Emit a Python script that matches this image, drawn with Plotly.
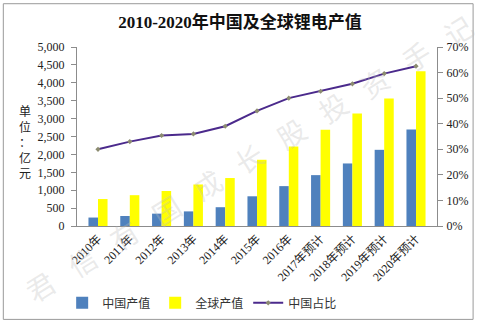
import plotly.graph_objects as go

# Category labels and series values (亿元 / share)
categories = ["2010年", "2011年", "2012年", "2013年", "2014年", "2015年", "2016年",
              "2017年预计", "2018年预计", "2019年预计", "2020年预计"]
china_value = [236, 280, 345, 408, 525, 830, 1114, 1421, 1747, 2128, 2698]
global_value = [753, 861, 978, 1160, 1340, 1850, 2220, 2690, 3143, 3560, 4320]
china_share = [0.300, 0.330, 0.354, 0.360, 0.390, 0.450, 0.500, 0.527, 0.556, 0.596, 0.625]
left_ticks = list(range(0, 5001, 500))
right_ticks = [i / 10 for i in range(0, 8)]
watermark_chars = ["君", "信", "有", "国", "成", "长", "股", "投", "资", "手", "记"]

W, H = 480, 329
L, R, T, B = 77, 39, 47, 98
PW, PH = W - L - R, H - T - B


def px(x):
    return (x - L) / PW


def py(y):
    return (H - B - y) / PH


serif = "Liberation Serif, Times New Roman, Noto Sans CJK SC, serif"
cjk = "Noto Sans CJK SC, sans-serif"

fig = go.Figure()
fig.add_trace(go.Bar(x=categories, y=china_value, name="中国产值",
                     marker=dict(color="#4F81BD", line=dict(width=0))))
fig.add_trace(go.Bar(x=categories, y=global_value, name="全球产值",
                     marker=dict(color="#FFFF00", line=dict(width=0))))
fig.add_trace(go.Scatter(x=categories, y=china_share, name="中国占比", yaxis="y2",
                         mode="lines+markers",
                         line=dict(color="#4B2A8C", width=2),
                         marker=dict(symbol="diamond", size=4, color="#8C8C70")))

annotations = [
    dict(text="单<br>位<br>：<br>亿<br>元", x=px(24), y=py(144), xref="paper", yref="paper",
         xanchor="center", yanchor="middle", showarrow=False,
         font=dict(family=cjk, size=12, color="#222"), align="center"),
]

# faint diagonal watermark across the chart
wm_start, wm_end = (40, 293), (462, 30)
n = len(watermark_chars)
for i, ch in enumerate(watermark_chars):
    t = i / (n - 1)
    annotations.append(dict(
        text=ch, x=px(wm_start[0] + (wm_end[0] - wm_start[0]) * t),
        y=py(wm_start[1] + (wm_end[1] - wm_start[1]) * t),
        xref="paper", yref="paper", xanchor="center", yanchor="middle",
        showarrow=False, textangle=-32,
        font=dict(family=cjk, size=28, color="rgba(190,190,190,0.32)")))

axis_font = dict(family=serif, size=12, color="#222")

fig.update_layout(
    width=W, height=H,
    margin=dict(l=L, r=R, t=T, b=B),
    paper_bgcolor="white", plot_bgcolor="white",
    title=dict(text="<b>2010-2020年中国及全球锂电产值</b>", x=0.5, xanchor="center",
               y=1 - 22 / H, yanchor="middle", yref="container",
               font=dict(family="Liberation Serif, Noto Sans CJK SC, serif", size=17, color="#111")),
    barmode="group", bargap=0.4, bargroupgap=0.0,
    xaxis=dict(type="category", showline=True, linecolor="#8C8C8C", linewidth=1,
               ticks="", tickangle=-45, showgrid=False, tickfont=axis_font),
    yaxis=dict(range=[0, 5000], tickvals=left_ticks, tickformat=",", showgrid=False,
               showline=True, linecolor="#8C8C8C", linewidth=1, ticks="outside",
               ticklen=5, tickcolor="#8C8C8C", zeroline=False, ticklabelstandoff=4,
               tickfont=axis_font),
    yaxis2=dict(range=[0, 0.7], tickvals=right_ticks, tickformat=".0%", overlaying="y",
                side="right", showgrid=False, showline=True, linecolor="#8C8C8C",
                linewidth=1, ticks="outside", ticklen=5, tickcolor="#8C8C8C",
                zeroline=False, ticklabelstandoff=1, tickfont=axis_font),
    legend=dict(orientation="h", x=px(62), xanchor="left", y=py(310), yanchor="middle",
                font=dict(family=cjk, size=12, color="#333"), itemwidth=30,
                traceorder="normal", bgcolor="rgba(0,0,0,0)"),
    annotations=annotations,
    shapes=[dict(type="rect", xref="paper", yref="paper",
                 x0=px(2.5), x1=px(477.5), y0=py(327), y1=py(2.5),
                 line=dict(color="#9A9A9A", width=1), fillcolor="rgba(0,0,0,0)",
                 layer="below")],
    showlegend=True,
)

fig.write_html("out.html")
